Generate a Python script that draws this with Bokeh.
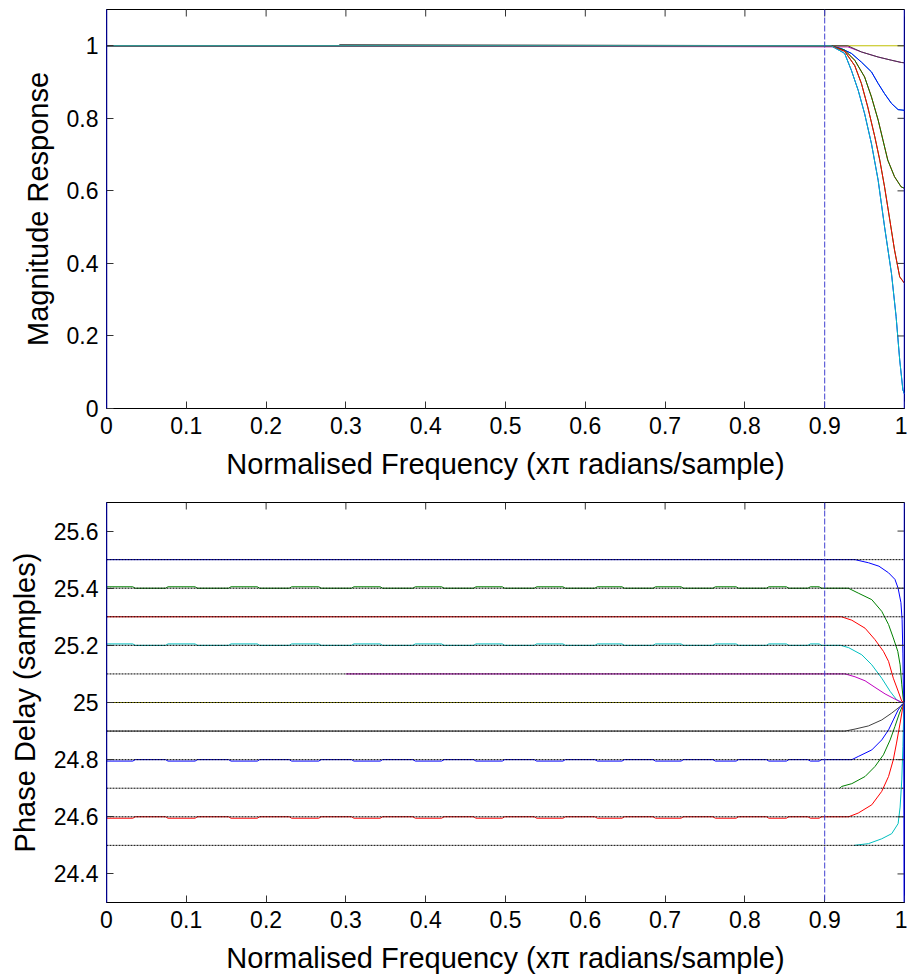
import math
from bokeh.plotting import figure
from bokeh.layouts import column
from bokeh.models import FixedTicker, Span, Range1d
from bokeh.embed import file_html
from bokeh.resources import INLINE

# ---------------- data ----------------
freq_range = [0.0, 1.0]
mag_range = [0.0, 1.1]
pd_range = [24.3, 25.7]
cutoff = 0.9
x_ticks = [0.0, 0.1, 0.2, 0.3, 0.4, 0.5, 0.6, 0.7, 0.8, 0.9, 1.0]
x_tick_labels = ["0", "0.1", "0.2", "0.3", "0.4", "0.5", "0.6", "0.7", "0.8", "0.9", "1"]
mag_ticks = [0.0, 0.2, 0.4, 0.6, 0.8, 1.0]
mag_tick_labels = ["0", "0.2", "0.4", "0.6", "0.8", "1"]
pd_ticks = [24.4, 24.6, 24.8, 25.0, 25.2, 25.4, 25.6]
pd_tick_labels = ["24.4", "24.6", "24.8", "25", "25.2", "25.4", "25.6"]

delays = [25.5, 25.4, 25.3, 25.2, 25.1, 25.0, 24.9, 24.8, 24.7, 24.6, 24.5]
series_colors = ["#0000FF", "#008000", "#FF0000", "#00BFBF", "#BF00BF", "#BFBF00",
                 "#404040", "#0000FF", "#008000", "#FF0000", "#00BFBF"]

# magnitude responses (|d| = 0 .. 0.5)
mag_x_d0 = [0.0, 1.0]
mag_y_d0 = [1.0, 1.0]
mag_x_d1 = [0.0, 0.929, 0.946, 0.967, 0.984, 0.996, 1.0]
mag_y_d1 = [1.0, 0.997, 0.983, 0.969, 0.960, 0.954, 0.953]
mag_x_d1k = [0.0, 0.292, 0.292, 0.929, 0.946, 0.967, 0.984, 0.996, 1.0]
mag_y_d1k = [1.0, 1.0, 1.003, 1.0, 0.983, 0.969, 0.960, 0.954, 0.953]
mag_x_d2 = [0.0, 0.908, 0.921, 0.9335, 0.946, 0.9586, 0.967, 0.975, 0.9837, 0.992, 1.0]
mag_y_d2 = [1.0, 1.0, 0.992, 0.979, 0.955, 0.928, 0.896, 0.868, 0.841, 0.824, 0.822]
mag_x_d3 = [0.0, 0.908, 0.925, 0.9377, 0.950, 0.9586, 0.967, 0.973, 0.979, 0.9875, 0.9958, 1.0]
mag_y_d3 = [1.0, 1.0, 0.988, 0.960, 0.914, 0.859, 0.795, 0.740, 0.685, 0.639, 0.611, 0.607]
mag_x_d4 = [0.0, 0.908, 0.925, 0.9377, 0.946, 0.954, 0.9628, 0.969, 0.975, 0.981, 0.9875, 0.994, 1.0]
mag_y_d4 = [1.0, 1.0, 0.985, 0.945, 0.896, 0.831, 0.749, 0.685, 0.611, 0.528, 0.437, 0.363, 0.345]
mag_x_d5 = [0.0, 0.908, 0.925, 0.9335, 0.942, 0.950, 0.9586, 0.967, 0.975, 0.9837, 0.9895, 0.994, 0.998, 1.0]
mag_y_d5 = [1.0, 1.0, 0.979, 0.932, 0.877, 0.813, 0.730, 0.629, 0.501, 0.372, 0.253, 0.134, 0.051, 0.040]

# phase-delay ripple plateaus (start, end)
ripple_start = [0.0, 0.074, 0.153, 0.229, 0.307, 0.384, 0.460, 0.536, 0.612, 0.685, 0.760, 0.827, 0.879]
ripple_end = [0.036, 0.114, 0.192, 0.269, 0.346, 0.423, 0.499, 0.575, 0.649, 0.723, 0.792, 0.855, 0.896]
ripple_height = [0.0, 0.005, 0.0, 0.005, 0.0, 0.0, 0.0, -0.005, 0.0, -0.005, 0.0]
pd_flat_start = [0.0, 0.0, 0.0, 0.0, 0.3, 0.0, 0.0, 0.0, 0.919, 0.0, 0.937]

# phase-delay tails near Nyquist (first point = where the curve leaves its level)
pd_tail_x = [
    [0.938, 0.955, 0.968, 0.980, 0.988, 0.992, 0.9955, 0.997, 0.998, 0.999, 1.0],
    [0.9297, 0.942, 0.959, 0.9715, 0.980, 0.986, 0.9916, 0.9945, 0.9966, 0.9987, 1.0],
    [0.921, 0.934, 0.9506, 0.963, 0.9736, 0.980, 0.986, 0.992, 0.9966, 1.0],
    [0.920, 0.930, 0.9465, 0.959, 0.9715, 0.982, 0.990, 0.9966, 1.0],
    [0.9256, 0.938, 0.9506, 0.963, 0.9757, 0.988, 0.9966, 1.0],
    [1.0],
    [0.9256, 0.938, 0.9548, 0.9715, 0.984, 0.9945, 0.9987, 1.0],
    [0.934, 0.942, 0.959, 0.9715, 0.980, 0.986, 0.992, 0.9975, 1.0],
    [0.921, 0.934, 0.9506, 0.963, 0.9736, 0.982, 0.988, 0.9937, 0.998, 1.0],
    [0.930, 0.942, 0.959, 0.9715, 0.980, 0.986, 0.990, 0.9945, 0.998, 1.0],
    [0.9548, 0.9715, 0.984, 0.992, 0.9945, 0.9966, 0.998, 0.999, 1.0],
]
pd_tail_y = [
    [25.5, 25.489, 25.477, 25.454, 25.431, 25.40, 25.35, 25.29, 25.17, 24.96, 24.0],
    [25.4, 25.383, 25.36, 25.319, 25.273, 25.226, 25.179, 25.132, 25.062, 25.004, 25.0],
    [25.3, 25.288, 25.26, 25.22, 25.179, 25.144, 25.085, 25.04, 25.004, 25.0],
    [25.2, 25.192, 25.167, 25.132, 25.085, 25.039, 25.01, 25.0, 25.0],
    [25.1, 25.09, 25.076, 25.053, 25.03, 25.012, 25.0, 25.0],
    [25.0],
    [24.9, 24.907, 24.918, 24.939, 24.963, 24.986, 24.996, 25.0],
    [24.8, 24.811, 24.834, 24.869, 24.904, 24.939, 24.974, 24.995, 25.0],
    [24.706, 24.716, 24.741, 24.776, 24.817, 24.869, 24.916, 24.963, 24.992, 25.0],
    [24.6, 24.613, 24.642, 24.689, 24.741, 24.80, 24.858, 24.928, 24.986, 25.0],
    [24.506, 24.523, 24.541, 24.576, 24.634, 24.729, 24.846, 24.963, 25.0],
]

mag_x_series = [mag_x_d5, mag_x_d4, mag_x_d3, mag_x_d2, mag_x_d1, mag_x_d0,
                mag_x_d1k, mag_x_d2, mag_x_d3, mag_x_d4, mag_x_d5]
mag_y_series = [mag_y_d5, mag_y_d4, mag_y_d3, mag_y_d2, mag_y_d1, mag_y_d0,
                mag_y_d1k, mag_y_d2, mag_y_d3, mag_y_d4, mag_y_d5]

FONT = "Liberation Sans"
TICK_COLOR = "#333333"


def style(p, yticks, ylabels, ylabel, yrange):
    p.outline_line_color = "black"
    p.outline_line_width = 1
    p.xgrid.visible = False
    p.ygrid.visible = False
    p.background_fill_color = "white"
    p.border_fill_color = "white"
    xa = p.xaxis[0]
    ya = p.yaxis[0]
    xa.ticker = FixedTicker(ticks=x_ticks)
    xa.major_label_overrides = dict(zip(x_ticks, x_tick_labels))
    ya.ticker = FixedTicker(ticks=yticks)
    ya.major_label_overrides = dict(zip(yticks, ylabels))
    xa.axis_label = "Normalised Frequency (x\u03c0 radians/sample)"
    ya.axis_label = ylabel
    for a in (xa, ya):
        a.axis_label_text_font = FONT
        a.axis_label_text_font_size = "29px"
        a.axis_label_text_font_style = "normal"
        a.axis_label_text_color = "black"
        a.major_label_text_font = FONT
        a.major_label_text_font_size = "23px"
        a.major_label_text_color = "black"
        a.major_tick_in = 7
        a.major_tick_out = 0
        a.minor_tick_line_color = None
        a.major_tick_line_color = TICK_COLOR
        a.major_label_standoff = 8
    xa.axis_line_color = "black"
    ya.axis_line_color = "#00008B"
    xa.axis_label_standoff = 11
    ya.axis_label_standoff = 10
    # inward ticks on the top and right edges of the box
    p.ray(x=x_ticks, y=[yrange[1]] * len(x_ticks), length=7, length_units="screen",
          angle=-math.pi / 2, line_color=TICK_COLOR, line_width=1)
    p.ray(x=[freq_range[1]] * len(yticks), y=yticks, length=7, length_units="screen",
          angle=math.pi, line_color=TICK_COLOR, line_width=1)
    p.add_layout(Span(location=cutoff, dimension="height", line_color="#4040D0",
                      line_width=1, line_dash="6 2"))
    p.add_layout(Span(location=freq_range[1], dimension="height", line_color="#0000FF",
                      line_width=1.5))
    p.add_layout(Span(location=freq_range[0], dimension="height", line_color="#00008B",
                      line_width=1.5))


# ---------------- top: magnitude ----------------
p1 = figure(frame_width=798, frame_height=399, min_border_left=106, min_border_right=3,
            min_border_top=9, min_border_bottom=82, x_range=Range1d(*freq_range),
            y_range=Range1d(*mag_range), output_backend="svg", toolbar_location=None)
for xs, ys, col in zip(mag_x_series, mag_y_series, series_colors):
    p1.line(xs, ys, line_color=col, line_width=1)
style(p1, mag_ticks, mag_tick_labels, "Magnitude Response", mag_range)

# ---------------- bottom: phase delay ----------------
p2 = figure(frame_width=798, frame_height=400, min_border_left=106, min_border_right=3,
            min_border_top=12, min_border_bottom=75, x_range=Range1d(*freq_range),
            y_range=Range1d(*pd_range), output_backend="svg", toolbar_location=None)
for i, d in enumerate(delays):
    h = ripple_height[i]
    if h != 0.0:
        xs, ys = [], []
        for s, e in zip(ripple_start, ripple_end):
            if s > pd_flat_start[i]:
                xs += [s, s + 0.003]
                ys += [d, d + h]
            else:
                xs += [s]
                ys += [d + h]
            xs += [e - 0.003, e]
            ys += [d + h, d]
    else:
        xs, ys = [pd_flat_start[i]], [d]
    xs = xs + pd_tail_x[i]
    ys = ys + pd_tail_y[i]
    p2.line(xs, ys, line_color=series_colors[i], line_width=1)

p2.multi_line([freq_range for _ in delays], [[d, d] for d in delays],
              line_color="black", line_width=1, line_dash="2 1")
style(p2, pd_ticks, pd_tick_labels, "Phase Delay (samples)", pd_range)

layout = column(p1, p2, spacing=0)
open("out.html", "w").write(file_html(layout, INLINE))
